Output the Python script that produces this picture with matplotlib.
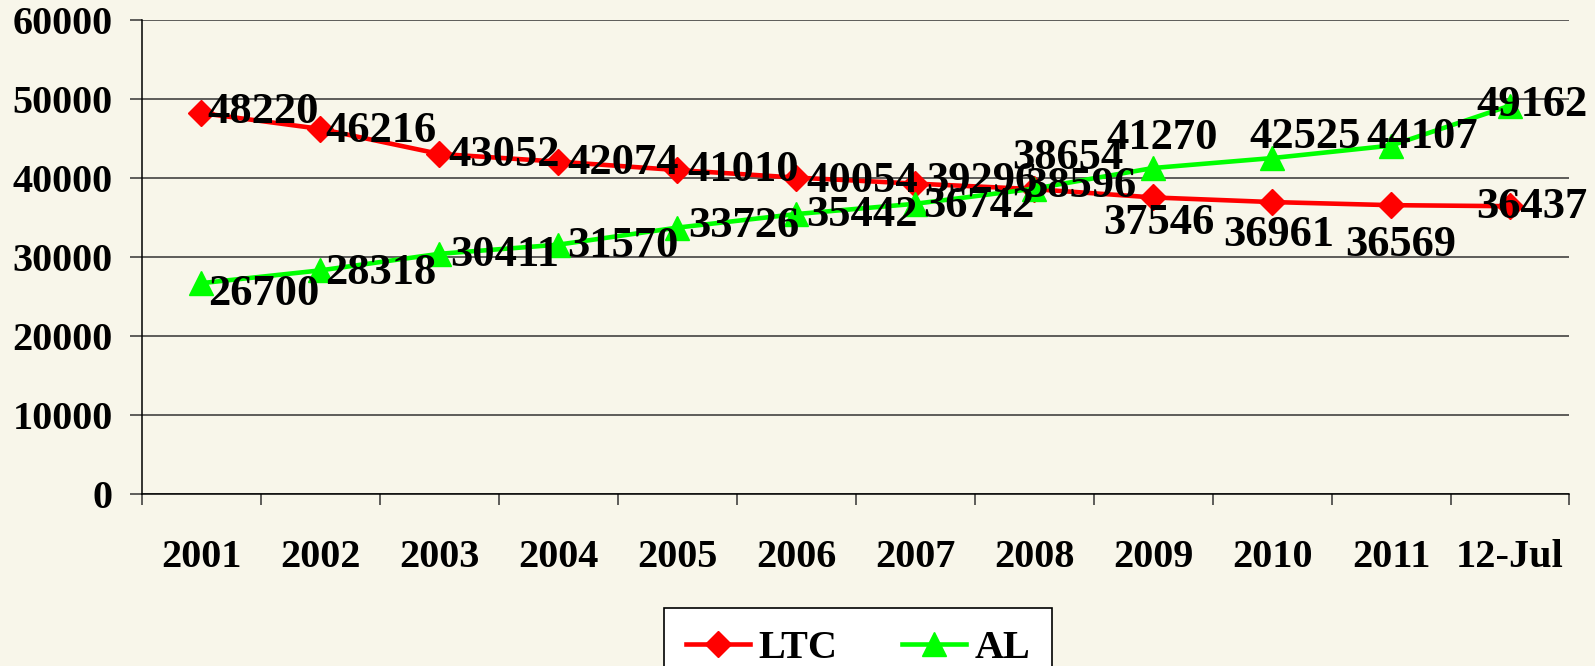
import matplotlib.pyplot as plt
import numpy as np

# Данные
years = ["2001", "2002", "2003", "2004", "2005", "2006",
         "2007", "2008", "2009", "2010", "2011", "12-Jul"]
ltc = [48220, 46216, 43052, 42074, 41010, 40054,
       39296, 38596, 37546, 36961, 36569, 36437]
al = [26700, 28318, 30411, 31570, 33726, 35442,
      36742, 38654, 41270, 42525, 44107, 49162]

# Сдвиги подписей (пиксели, вправо / вниз)
ltc_off = [(62, -1), (61, 2), (65, 1), (65, 1), (66, 0), (66, 3),
           (67, -3), (47, -3), (6, 26), (7, 33), (10, 40), (22, 1)]
al_off = [(62, 11), (60, 3), (65, 1), (65, 1), (66, -2), (66, 1),
          (64, 2), (34, -31), (9, -30), (33, -21), (31, -9), (22, -1)]

bg = '#F8F6EA'
plt.rcParams['font.family'] = ['Liberation Serif', 'DejaVu Serif']
plt.rcParams['font.weight'] = 'bold'

fig = plt.figure(figsize=(15.95, 6.66), dpi=100, facecolor=bg)
ax = fig.add_axes([0.089, 0.258, 0.895, 0.712])
ax.set_facecolor(bg)

x = np.arange(len(years))
ax.plot(x, ltc, color='#FF0000', lw=3.3, marker='D', ms=13, label='LTC', zorder=3)
ax.plot(x, al, color='#00FF00', lw=3.3, marker='^', ms=17, label='AL', zorder=3)

for i in range(len(years)):
    dx, dy = ltc_off[i]
    ax.annotate(str(ltc[i]), (x[i], ltc[i]), xytext=(dx, -dy),
                textcoords='offset pixels', ha='center', va='center',
                fontsize=32, fontweight='bold', zorder=4)
    dx, dy = al_off[i]
    ax.annotate(str(al[i]), (x[i], al[i]), xytext=(dx, -dy),
                textcoords='offset pixels', ha='center', va='center',
                fontsize=32, fontweight='bold', zorder=4)

ax.set_xlim(-0.5, 11.5)
ax.set_ylim(0, 60000)
ax.set_yticks(np.arange(0, 60001, 10000))
ax.grid(axis='y', color='#333333', lw=1.1)
ax.set_axisbelow(True)

ax.set_xticks(x)
ax.set_xticklabels(years)
ax.set_xticks(np.arange(-0.5, 12, 1), minor=True)
ax.tick_params(axis='x', which='major', length=0, pad=32, labelsize=29)
ax.tick_params(axis='x', which='minor', length=8, width=1.1, color='#333333')
ax.tick_params(axis='y', length=9, width=1.1, pad=12, labelsize=29, color='#333333')

for s in ['top', 'right']:
    ax.spines[s].set_visible(False)
ax.spines['left'].set_linewidth(1.1)
ax.spines['bottom'].set_linewidth(1.1)

leg = fig.legend(loc='upper center', bbox_to_anchor=(0.538, 1 - 608 / 666),
                 borderaxespad=0, ncol=2, frameon=True, fancybox=False,
                 edgecolor='black', facecolor='white', framealpha=1,
                 prop={'size': 29, 'weight': 'bold'},
                 handlelength=1.6, handletextpad=0.2, columnspacing=1.6,
                 borderpad=0.55)
leg.get_frame().set_linewidth(1.2)

plt.savefig('out.png', dpi=100, facecolor=bg)
